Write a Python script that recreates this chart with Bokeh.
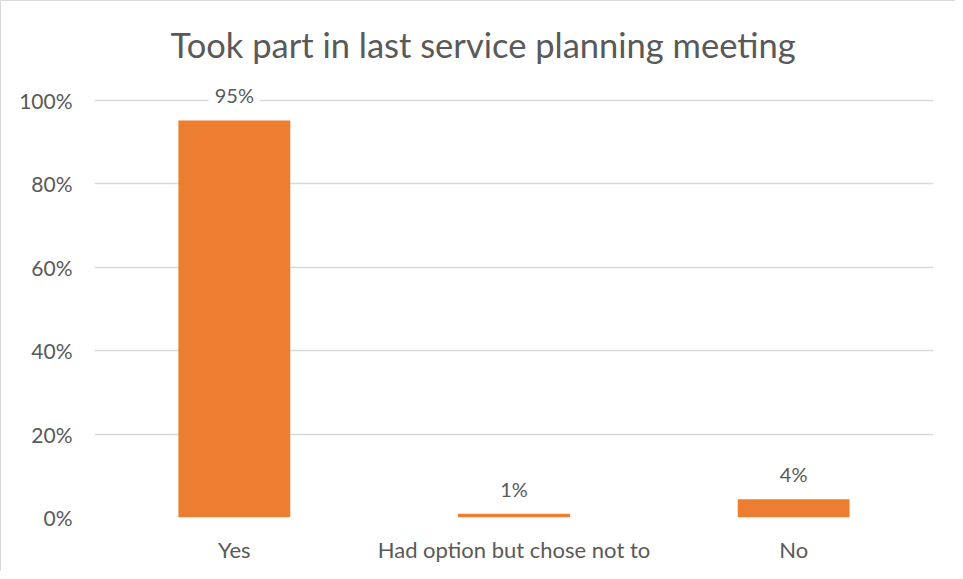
from bokeh.plotting import figure
from bokeh.models import ColumnDataSource, FactorRange, Range1d, NumeralTickFormatter, FixedTicker
from bokeh.core.properties import value
from bokeh.embed import file_html
from bokeh.resources import INLINE

title_text = "Took part in last service planning meeting"
categories = ["Yes", "Had option but chose not to", "No"]
values = [0.952, 0.009, 0.044]
labels = ["95%", "1%", "4%"]
y_ticks = [0, 0.2, 0.4, 0.6, 0.8, 1.0]

FONT = "Lato"
TXT = "#595959"
GRID = "#D9D9D9"
BAR = "#ED7D31"

src = ColumnDataSource(dict(cat=categories, val=values, lab=labels))

p = figure(
    width=955, height=571,
    x_range=FactorRange(*categories, range_padding=0),
    y_range=Range1d(0, 1.05),
    output_backend="svg", toolbar_location=None,
    min_border_left=93, min_border_right=23, min_border_top=78, min_border_bottom=55,
    styles={"border-top": "1px solid #D9D9D9", "border-left": "1px solid #D9D9D9"},
)
p.title.text = title_text
p.title.align = "left"
p.title.offset = 76
p.title.text_font = FONT
p.title.text_font_size = "34.5px"
p.title.text_font_style = "normal"
p.title.text_color = TXT
p.title.standoff = 30

p.vbar(x="cat", top="val", width=0.4, source=src, color=BAR, line_color=None)

p.text(x="cat", y="val", text="lab", source=src, y_offset=-25,
       text_align="center", text_baseline="middle",
       text_font=value(FONT), text_font_size="20px", text_color=TXT,
       background_fill_color="white", padding=6)

p.outline_line_color = None
p.xgrid.grid_line_color = None
p.ygrid.grid_line_color = GRID
p.ygrid.grid_line_width = 1.5
p.yaxis.ticker = FixedTicker(ticks=y_ticks)
p.yaxis.formatter = NumeralTickFormatter(format="0%")
for ax in (p.xaxis, p.yaxis):
    ax.axis_line_color = None
    ax.major_tick_line_color = None
    ax.minor_tick_line_color = None
    ax.major_tick_out = 0
    ax.major_tick_in = 0
    ax.minor_tick_out = 0
    ax.major_label_text_font = FONT
    ax.major_label_text_color = TXT
p.yaxis.major_label_text_font_size = "21px"
p.xaxis.major_label_text_font_size = "22px"
p.yaxis.major_label_standoff = 22
p.xaxis.major_label_standoff = 18

open("out.html", "w").write(file_html(p, INLINE))
